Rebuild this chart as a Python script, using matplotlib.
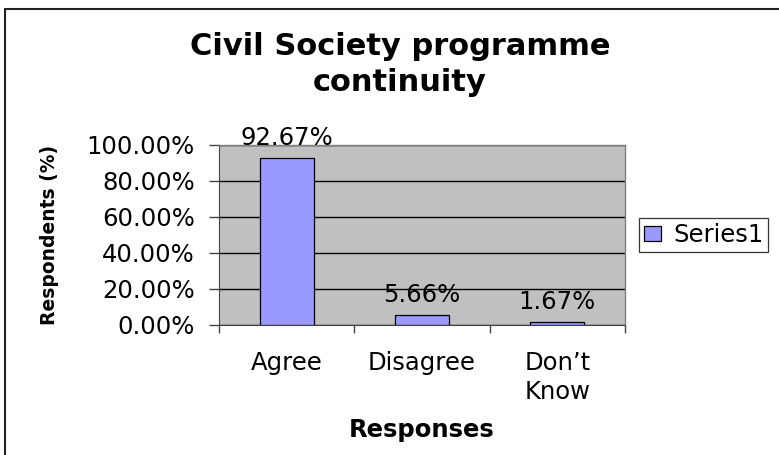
import matplotlib
matplotlib.use("Agg")
import matplotlib.pyplot as plt
from matplotlib.patches import Rectangle, Patch
from matplotlib.ticker import FixedLocator

categories = ["Agree", "Disagree", "Don\u2019t\nKnow"]
values = [92.67, 5.66, 1.67]
labels = ["92.67%", "5.66%", "1.67%"]
yticks = [0, 20, 40, 60, 80, 100]
ytick_labels = ["0.00%", "20.00%", "40.00%", "60.00%", "80.00%", "100.00%"]
series_name = "Series1"
title = "Civil Society programme\ncontinuity"

plt.rcParams['font.family'] = ['DejaVu Sans']
FS = 17.5

W, H = 779, 455
fig = plt.figure(figsize=(W / 100, H / 100), dpi=100)
fig.patch.set_facecolor("white")

# outer chart border (only left and top visible)
fig.add_artist(Rectangle((5 / W, -0.1), 1.2, (H - 9) / H + 0.1, transform=fig.transFigure,
                         fill=False, edgecolor="#222222", linewidth=1.5))

left, right, top, bottom = 219, 625, 145, 325
ax = fig.add_axes([left / W, 1 - bottom / H, (right - left) / W, (bottom - top) / H])
ax.set_facecolor("#C0C0C0")

x = list(range(len(categories)))
ax.bar(x, values, width=0.4, color="#9999FF", edgecolor="black", linewidth=0.9, zorder=3,
       label=series_name)
ax.set_xlim(-0.5, len(categories) - 0.5)
ax.set_ylim(0, 100)

ax.yaxis.set_major_locator(FixedLocator(yticks))
ax.set_yticklabels(ytick_labels, fontsize=FS)
ax.grid(axis="y", color="black", linewidth=1.0, zorder=1)
ax.set_axisbelow(True)

ax.set_xticks(x)
ax.set_xticklabels(categories, fontsize=FS, linespacing=1.3, va="top")
ax.xaxis.set_minor_locator(FixedLocator([-0.5, 0.5, 1.5, 2.5]))
ax.tick_params(axis="x", which="major", length=0, pad=18.5)
ax.tick_params(axis="x", which="minor", length=6, width=1.0, direction="out", color="#444444")
ax.tick_params(axis="y", length=7, width=1.0, direction="out", color="#444444", pad=10.5)

for side in ["top", "right"]:
    ax.spines[side].set_color("#808080")
    ax.spines[side].set_linewidth(1.0)
ax.spines["left"].set_color("#444444")
ax.spines["bottom"].set_color("#444444")

for xi, v, t in zip(x, values, labels):
    ax.annotate(t, (xi, v), xytext=(0, 9.5), textcoords="offset points",
                ha="center", va="baseline", fontsize=FS, zorder=4, annotation_clip=False)

ax.set_xlabel("Responses", fontsize=17.5, fontweight="bold")
ax.xaxis.set_label_coords(0.5, (bottom - 430) / (bottom - top))
ax.xaxis.label.set_va("center")
ax.set_ylabel("Respondents (%)", fontsize=13.5, fontweight="bold")
ax.yaxis.set_label_coords((50 - left) / (right - left), 0.5)
ax.yaxis.label.set_va("center")

fig.text(400 / W, 1 - 64.5 / H, title, ha="center", va="center",
         fontsize=22, fontweight="bold", linespacing=1.28)

leg = fig.legend(handles=[Patch(facecolor="#9999FF", edgecolor="black", linewidth=0.9, label=series_name)],
                 loc="upper left", bbox_to_anchor=(639 / W, 1 - 218 / H), fontsize=FS,
                 frameon=True, fancybox=False, borderpad=0.2, handlelength=0.7, handleheight=0.6,
                 handletextpad=0.5, borderaxespad=0)
leg.get_frame().set_edgecolor("black")
leg.get_frame().set_linewidth(0.9)

fig.savefig("out.png", dpi=100)
